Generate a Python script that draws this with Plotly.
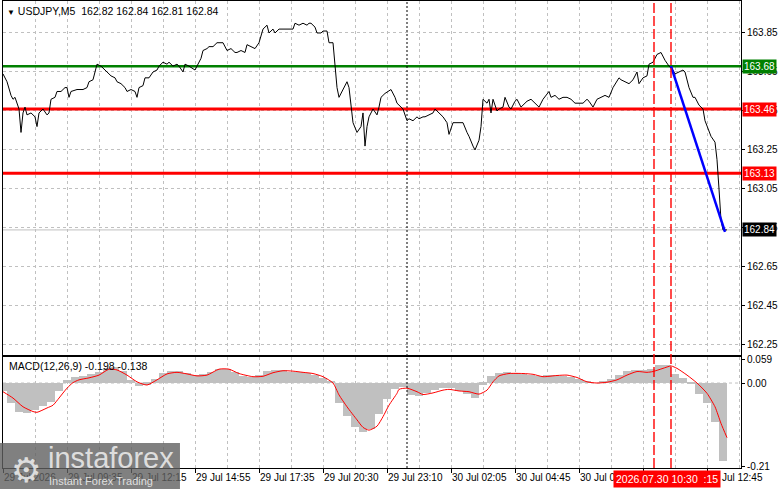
import plotly.graph_objects as go

# --- chart data (x = bar number, 5 min bars) ---
symbol_title = "USDJPY,M5  162.82 162.84 162.81 162.84"
macd_title = "MACD(12,26,9) -0.198 -0.138"

price_bar = [0, 2, 4, 5, 6, 7, 8, 9, 10, 11, 12, 14, 16, 17, 18, 20, 22, 23, 24, 26,
             27, 29, 31, 32, 33, 34, 37, 40, 42, 43, 45, 46, 47, 49, 51, 52, 54, 56, 57, 59,
             61, 62, 64, 66, 67, 68, 70, 71, 73, 75, 77, 78, 80, 82, 83, 85, 87, 88, 90, 91,
             93, 96, 97, 99, 100, 102, 103, 105, 107, 109, 110, 112, 114, 116, 117, 119, 121, 122, 124, 126,
             128, 130, 132, 133, 135, 136, 138, 140, 143, 145, 146, 148, 150, 152, 153, 154, 156, 157, 159, 160,
             162, 163, 165, 166, 167, 168, 170, 171, 172, 173, 174, 175, 177, 179, 180, 181, 182, 183, 185, 187,
             188, 189, 191, 194, 196, 197, 198, 200, 202, 203, 205, 207, 208, 210, 211, 213, 215, 216, 218, 220,
             222, 223, 225, 227, 228, 230, 232, 233, 235, 236, 238, 239, 240, 242, 243, 244, 245, 247, 248, 250,
             251, 253, 254, 256, 257, 259, 261, 262, 264, 266, 268, 270, 273, 274, 276, 278, 280, 282, 284, 286,
             288, 290, 292, 293, 295, 297, 299, 301, 303, 305, 308, 309, 311, 313, 315, 317, 318, 320, 322, 323,
             325, 327, 329, 331, 333, 335, 336, 338, 340, 341, 343, 345, 346, 348, 350, 351, 353, 354, 356, 357,
             358, 359, 360, 362]
price_close = [163.64, 163.60, 163.53, 163.51, 163.52, 163.49, 163.46, 163.34, 163.44, 163.47, 163.43, 163.44, 163.42, 163.37, 163.44, 163.46, 163.43, 163.44, 163.51, 163.52,
               163.55, 163.55, 163.57, 163.57, 163.52, 163.55, 163.56, 163.56, 163.57, 163.60, 163.61, 163.65, 163.69, 163.68, 163.66, 163.65, 163.63, 163.62, 163.60, 163.59,
               163.57, 163.55, 163.56, 163.55, 163.52, 163.57, 163.58, 163.62, 163.62, 163.65, 163.66, 163.68, 163.70, 163.69, 163.70, 163.68, 163.69, 163.68, 163.65, 163.69,
               163.68, 163.66, 163.68, 163.72, 163.76, 163.77, 163.78, 163.78, 163.80, 163.80, 163.80, 163.76, 163.77, 163.75, 163.75, 163.76, 163.75, 163.79, 163.78, 163.77,
               163.80, 163.87, 163.89, 163.85, 163.87, 163.85, 163.87, 163.87, 163.87, 163.87, 163.90, 163.89, 163.90, 163.89, 163.90, 163.90, 163.88, 163.85, 163.85, 163.86,
               163.86, 163.80, 163.80, 163.68, 163.57, 163.52, 163.56, 163.58, 163.60, 163.57, 163.47, 163.39, 163.34, 163.37, 163.44, 163.27, 163.37, 163.42, 163.46, 163.43,
               163.47, 163.52, 163.54, 163.56, 163.52, 163.49, 163.48, 163.46, 163.40, 163.41, 163.40, 163.42, 163.41, 163.42, 163.42, 163.43, 163.44, 163.46, 163.44, 163.42,
               163.39, 163.33, 163.39, 163.39, 163.39, 163.39, 163.34, 163.32, 163.27, 163.25, 163.30, 163.37, 163.51, 163.49, 163.51, 163.44, 163.51, 163.45, 163.46, 163.47,
               163.52, 163.47, 163.46, 163.50, 163.51, 163.47, 163.49, 163.50, 163.51, 163.49, 163.47, 163.51, 163.55, 163.52, 163.53, 163.51, 163.52, 163.52, 163.51, 163.49,
               163.49, 163.49, 163.51, 163.50, 163.47, 163.51, 163.52, 163.53, 163.52, 163.57, 163.62, 163.61, 163.60, 163.59, 163.61, 163.65, 163.59, 163.62, 163.63, 163.69,
               163.70, 163.74, 163.75, 163.71, 163.68, 163.66, 163.64, 163.65, 163.66, 163.65, 163.57, 163.52, 163.52, 163.48, 163.46, 163.40, 163.35, 163.32, 163.29, 163.20,
               163.05, 162.89, 162.84, 162.84]

trend_bar = [334, 361]
trend_price = [163.68, 162.83]

level_green = [163.68]
level_red = [163.46, 163.13]
last_price = 162.84
marker_bars = [325.5, 334]
session_bar = 202
bar_span = [0, 369]

hist_bar = [0, 4, 8, 12, 16, 20, 24, 28, 32, 36, 40, 44, 48, 52, 56, 60, 64, 68, 72, 76,
            80, 84, 88, 92, 96, 100, 104, 108, 112, 116, 120, 124, 128, 132, 136, 140, 144, 148, 152, 156,
            160, 164, 168, 172, 176, 180, 184, 188, 192, 196, 200, 204, 208, 212, 216, 220, 224, 228, 232, 236,
            240, 244, 248, 252, 256, 260, 264, 268, 272, 276, 280, 284, 288, 292, 296, 300, 304, 308, 312, 316,
            320, 324, 328, 332, 336, 340, 344, 348, 352, 356, 360]
hist_value = [-0.022, -0.050, -0.074, -0.076, -0.068, -0.060, -0.048, -0.022, 0.008, 0.015, 0.018, 0.021, 0.028, 0.038, 0.040, 0.030, 0.008, -0.009, -0.005, 0.010,
              0.025, 0.030, 0.029, 0.024, 0.020, 0.022, 0.028, 0.034, 0.035, 0.027, 0.018, 0.015, 0.020, 0.030, 0.033, 0.033, 0.028, 0.026, 0.025, 0.020,
              0.012, 0.002, -0.050, -0.084, -0.112, -0.125, -0.118, -0.080, -0.040, -0.015, -0.012, -0.030, -0.034, -0.025, -0.018, -0.013, -0.014, -0.020, -0.028, -0.038,
              -0.005, 0.017, 0.024, 0.027, 0.025, 0.023, 0.020, 0.018, 0.019, 0.020, 0.018, 0.014, 0.010, 0.003, 0.000, 0.003, 0.010, 0.020, 0.030, 0.031,
              0.032, 0.035, 0.045, 0.045, 0.022, 0.012, -0.002, -0.028, -0.051, -0.100, -0.198]

signal_bar = [0, 5, 10, 15, 17, 22, 25, 28, 32, 35, 38, 43, 48, 53, 57, 62, 67, 72, 77, 82,
              87, 92, 97, 102, 108, 113, 118, 125, 130, 135, 140, 145, 150, 155, 160, 165, 168, 172, 177, 180,
              183, 187, 190, 193, 197, 198, 202, 207, 210, 215, 220, 223, 228, 233, 238, 242, 245, 248, 253, 260,
              265, 270, 277, 282, 287, 292, 297, 302, 307, 312, 317, 322, 325, 330, 334, 337, 342, 347, 352, 356,
              359, 362]
signal_value = [-0.022, -0.038, -0.060, -0.072, -0.074, -0.063, -0.056, -0.038, -0.013, 0.001, 0.008, 0.013, 0.020, 0.035, 0.033, 0.020, 0.003, -0.005, 0.008, 0.023,
                0.027, 0.023, 0.018, 0.020, 0.035, 0.035, 0.024, 0.016, 0.017, 0.026, 0.031, 0.030, 0.027, 0.024, 0.016, 0.000, -0.030, -0.060, -0.093, -0.112,
                -0.119, -0.109, -0.085, -0.056, -0.026, -0.016, -0.013, -0.022, -0.029, -0.025, -0.018, -0.016, -0.020, -0.022, -0.028, -0.018, 0.003, 0.018, 0.024, 0.024,
                0.022, 0.016, 0.019, 0.020, 0.014, 0.003, 0.000, 0.002, 0.008, 0.020, 0.029, 0.027, 0.029, 0.037, 0.043, 0.037, 0.020, 0.000, -0.026, -0.060,
                -0.102, -0.138]

price_ticks = [163.85, 163.65, 163.45, 163.25, 163.05, 162.85, 162.65, 162.45, 162.25]
macd_ticks = [0.059, 0.0, -0.21]
macd_tick_text = ["0.059", "0.00", "-0.21"]
time_tick_bars = [0, 32, 64, 96, 128, 160, 192, 224, 256, 288, 320, 352]
time_tick_text = ["29 Jul 2026", "29 Jul 09:35", "29 Jul 12:15", "29 Jul 14:55", "29 Jul 17:35",
                  "29 Jul 20:30", "29 Jul 23:10", "30 Jul 02:05", "30 Jul 04:45", "30 Jul 07:25",
                  "30 Jul 10:05", "30 Jul 12:45"]
crosshair_label = "2026.07.30 10:30  :15"

FONT = "Liberation Sans"
GRID = "#C0C0C0"

fig = go.Figure()

# MACD panel
fig.add_trace(go.Scatter(
    x=bar_span, y=[0, 0], mode="lines",
    line=dict(color=GRID, width=1, dash="3px,3px"),
    xaxis="x2", yaxis="y2",
))
fig.add_trace(go.Bar(
    x=hist_bar, y=hist_value, width=4,
    marker=dict(color="#C0C0C0", line_width=0),
    xaxis="x2", yaxis="y2",
))
fig.add_trace(go.Scatter(
    x=signal_bar, y=signal_value, mode="lines",
    line=dict(color="#FF0000", width=1, shape="spline", smoothing=0.6),
    xaxis="x2", yaxis="y2",
))

# price panel: levels first, so the price line sits on top of them
fig.add_trace(go.Scatter(x=bar_span, y=[last_price, last_price], mode="lines",
                         line=dict(color="#C0C0C0", width=1)))
for lvl in level_green:
    fig.add_trace(go.Scatter(x=bar_span, y=[lvl, lvl], mode="lines",
                             line=dict(color="#008000", width=2.5)))
for lvl in level_red:
    fig.add_trace(go.Scatter(x=bar_span, y=[lvl, lvl], mode="lines",
                             line=dict(color="#FF0000", width=3)))
fig.add_trace(go.Scatter(
    x=price_bar, y=price_close, mode="lines",
    line=dict(color="black", width=1),
))
fig.add_trace(go.Scatter(
    x=trend_bar, y=trend_price, mode="lines",
    line=dict(color="#0000FF", width=2.5),
))

# vertical markers through both panels
for b in marker_bars:
    fig.add_shape(type="line", xref="x", yref="paper", x0=b, x1=b, y0=0, y1=1,
                  line=dict(color="#FF0000", width=1.4, dash="10px,3px"), layer="above")
fig.add_shape(type="line", xref="x", yref="paper", x0=session_bar, x1=session_bar, y0=0, y1=1,
              line=dict(color="black", width=1, dash="2px,2px"), layer="above")

axis_common = dict(
    showline=True, mirror=True, linecolor="black", linewidth=1,
    zeroline=False, automargin=False,
    tickfont=dict(family=FONT, size=10, color="black"),
)
grid_x = dict(showgrid=True, gridcolor=GRID, griddash="3px,3px", gridwidth=1)

fig.update_layout(
    width=781, height=489,
    margin=dict(l=3, r=40, t=1, b=21),
    paper_bgcolor="white", plot_bgcolor="white",
    showlegend=False, bargap=0,
    xaxis=dict(domain=[0, 1], range=bar_span, anchor="y", showticklabels=False,
               tickmode="array", tickvals=time_tick_bars, ticks="",
               minor=dict(tickmode="linear", tick0=16, dtick=32, **grid_x),
               **grid_x, **axis_common),
    xaxis2=dict(domain=[0, 1], range=bar_span, anchor="y2", matches="x",
                tickmode="array", tickvals=time_tick_bars, ticktext=time_tick_text,
                ticks="outside", ticklen=4, tickcolor="black", tickangle=0,
                ticklabelposition="outside right",
                minor=dict(tickmode="linear", tick0=16, dtick=32, **grid_x),
                **grid_x, **axis_common),
    yaxis=dict(domain=[0.2409, 1], range=[162.196, 164.014], anchor="x", side="right",
               tickmode="array", tickvals=price_ticks,
               ticktext=[f"{p:.2f}" for p in price_ticks],
               ticks="outside", ticklen=3, tickcolor="black",
               showgrid=True, gridcolor=GRID, griddash="3px,3px", **axis_common),
    yaxis2=dict(domain=[0, 0.237], range=[-0.2146, 0.0649], anchor="x2", side="right",
                tickmode="array", tickvals=macd_ticks, ticktext=macd_tick_text,
                ticks="outside", ticklen=3, tickcolor="black",
                showgrid=False, **axis_common),
)

# price boxes on the right scale
box_font = dict(family=FONT, size=10, color="white")
for lvl in level_green:
    fig.add_annotation(xref="paper", x=1, xanchor="left", xshift=1, yref="y", y=lvl,
                       text=f"{lvl:.2f}", showarrow=False, bgcolor="#008000",
                       font=box_font, borderpad=1)
for lvl in level_red:
    fig.add_annotation(xref="paper", x=1, xanchor="left", xshift=1, yref="y", y=lvl,
                       text=f"{lvl:.2f}", showarrow=False, bgcolor="#FF0000",
                       font=box_font, borderpad=1)
fig.add_annotation(xref="paper", x=1, xanchor="left", xshift=1, yref="y", y=last_price,
                   text=f"{last_price:.2f}", showarrow=False, bgcolor="black",
                   font=box_font, borderpad=1)

# panel titles
fig.add_annotation(xref="paper", yref="paper", x=0.003, y=0.979, xanchor="left", yanchor="middle",
                   text="<span style='font-size:8px'>▼</span> " + symbol_title, showarrow=False,
                   font=dict(family=FONT, size=10.5, color="black"))
fig.add_annotation(xref="paper", yref="paper", x=0.005, y=0.218, xanchor="left", yanchor="middle",
                   text=macd_title, showarrow=False,
                   font=dict(family=FONT, size=10.5, color="black"))

# crosshair time box
fig.add_annotation(xref="paper", yref="paper", x=0.8266, y=-0.0236, xanchor="left", yanchor="middle",
                   text=crosshair_label, showarrow=False, bgcolor="#FF0000",
                   font=dict(family=FONT, size=10.5, color="white"), borderpad=2)

# watermark
fig.add_shape(type="rect", xref="paper", yref="paper", x0=-0.005, x1=0.2398, y0=-0.046, y1=0.0535,
              fillcolor="rgba(96,96,96,0.8)", line_width=0, layer="above")
fig.add_annotation(xref="paper", yref="paper", x=0.031, y=-0.004, xanchor="center", yanchor="middle",
                   text="⚙", showarrow=False,
                   font=dict(family="DejaVu Sans", size=34, color="rgba(235,235,235,0.9)"))
fig.add_annotation(xref="paper", yref="paper", x=0.058, y=0.021, xanchor="left", yanchor="middle",
                   text="instaforex", showarrow=False,
                   font=dict(family=FONT, size=29, color="rgba(235,235,235,0.9)"))
fig.add_annotation(xref="paper", yref="paper", x=0.06, y=-0.028, xanchor="left", yanchor="middle",
                   text="Instant Forex Trading", showarrow=False,
                   font=dict(family=FONT, size=11, color="rgba(235,235,235,0.9)"))

fig.write_html("out.html", config={"displayModeBar": False},
               post_script="document.body.style.margin='0px';")
